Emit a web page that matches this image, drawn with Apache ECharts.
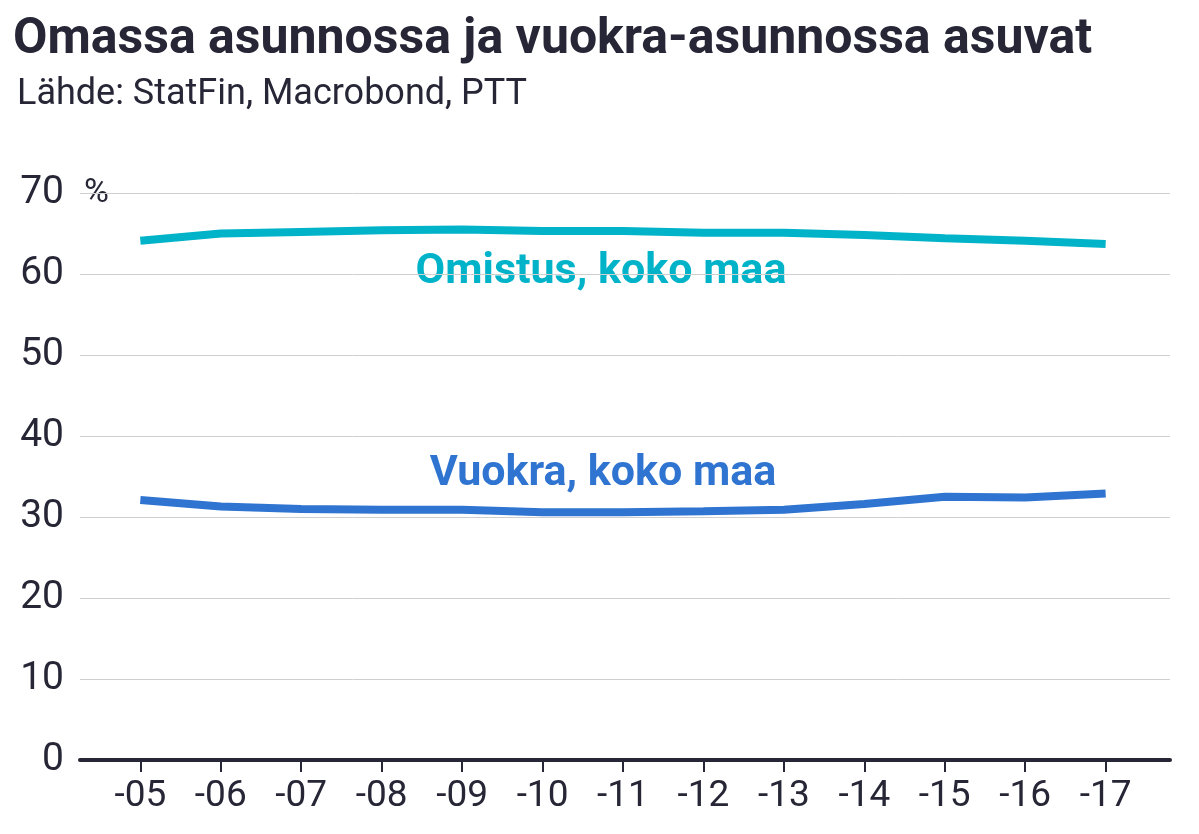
<!DOCTYPE html>
<html><head><meta charset="utf-8">
<script src="https://cdn.jsdelivr.net/npm/echarts@6/dist/echarts.min.js"></script>
<style>html,body{margin:0;background:#fff}#c{width:1199px;height:834px}</style>
</head><body><div id="c"></div>
<script>
// years 2005..2017, shown as -05 .. -17
const years = [5, 6, 7, 8, 9, 10, 11, 12, 13, 14, 15, 16, 17];
const omistus = [64.1, 65.0, 65.2, 65.4, 65.5, 65.3, 65.3, 65.1, 65.1, 64.8, 64.4, 64.1, 63.7];
const vuokra = [32.1, 31.3, 31.0, 30.9, 30.9, 30.6, 30.6, 30.7, 30.9, 31.6, 32.5, 32.4, 32.9];
const yTicks = [0, 10, 20, 30, 40, 50, 60, 70];

const dark = '#262636';
const font = 'Roboto';
const chart = echarts.init(document.getElementById('c'));

chart.setOption({
	animation: false,
	textStyle: {fontFamily: font},
	grid: {left: 80, right: 29, top: 193, bottom: 74},
	xAxis: {
		type: 'value', min: 4.25, max: 17.8,
		splitLine: {show: false},
		axisLine: {lineStyle: {color: dark, width: 4}},
		axisTick: {show: true, customValues: years, length: 12, lineStyle: {color: dark, width: 2}},
		axisLabel: {customValues: years, color: dark, fontSize: 37, margin: 18,
			formatter: (v) => '-' + String(v).padStart(2, '0')}
	},
	yAxis: {
		type: 'value', min: 0, max: 70, interval: 10,
		axisLine: {show: false}, axisTick: {show: false},
		splitLine: {lineStyle: {color: '#cfcfcf', width: 1}},
		axisLabel: {color: dark, fontSize: 39, margin: 16, customValues: yTicks}
	},
	title: [
		{text: 'Omassa asunnossa ja vuokra-asunnossa asuvat', left: 8, top: 10,
			textStyle: {fontFamily: font, fontWeight: 'bold', fontSize: 50, color: dark}},
		{text: 'Lähde: StatFin, Macrobond, PTT', left: 12, top: 72,
			textStyle: {fontFamily: font, fontWeight: 'normal', fontSize: 36, color: dark}}
	],
	graphic: [
		{type: 'text', left: 84, top: 176, style: {text: '%', fontSize: 34, fill: dark, fontFamily: font}},
		{type: 'text', x: 601, y: 272, style: {text: 'Omistus, koko maa', fontSize: 43, fontWeight: 'bold',
			fill: '#00b3c8', fontFamily: font, align: 'center', verticalAlign: 'middle',
			backgroundColor: '#fff', padding: [4, 14]}},
		{type: 'text', x: 603, y: 474, style: {text: 'Vuokra, koko maa', fontSize: 43, fontWeight: 'bold',
			fill: '#2f74d0', fontFamily: font, align: 'center', verticalAlign: 'middle'}}
	],
	series: [
		{type: 'line', data: years.map((y, i) => [y, omistus[i]]), symbol: 'none',
			lineStyle: {color: '#00b3c8', width: 8}},
		{type: 'line', data: years.map((y, i) => [y, vuokra[i]]), symbol: 'none',
			lineStyle: {color: '#2f74d0', width: 8}}
	]
});
</script></body></html>
